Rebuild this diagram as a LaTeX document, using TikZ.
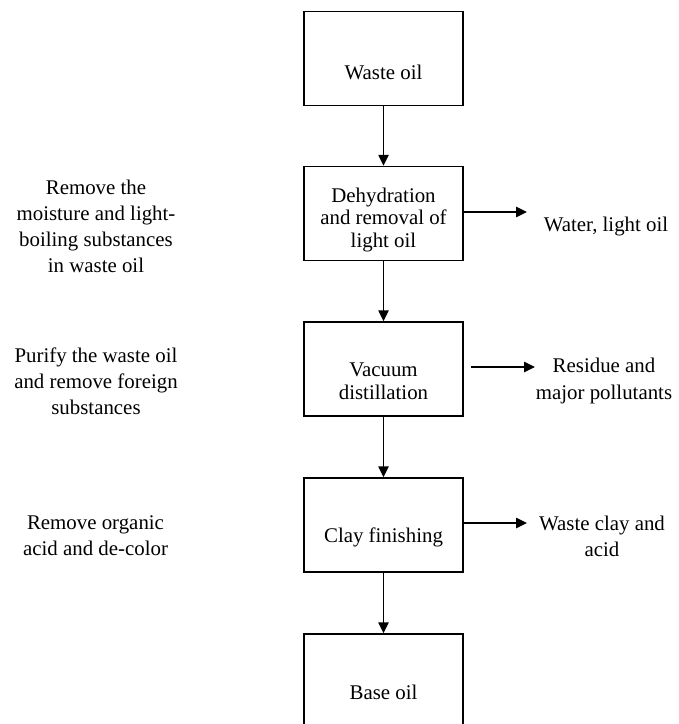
\documentclass[tikz,border=0pt]{standalone}
\usepackage{fontspec}
\setmainfont{Liberation Serif}
\usepackage{tikz}
\usetikzlibrary{arrows.meta}

\begin{document}
\begin{tikzpicture}[x = 0.575pt, y = -0.575pt,
    stepbox/.style = {draw, line width = 0.9pt, inner sep = 0pt,
        minimum width = 91.4pt, minimum height = 54pt},
    steptext/.style = {align = center, inner sep = 0pt,
        font = \fontsize{12pt}{13pt}\selectfont},
    sidetext/.style = {align = center, inner sep = 0pt,
        font = \fontsize{12pt}{15pt}\selectfont},
    flow/.style = {line width = 0.9pt, -{Triangle[length = 6.2pt, width = 5.8pt]}}]
    \clip (0, 0) rectangle (678, 724);
    % process boxes
    \node [stepbox] (waste) at (383.5, 58.5) {};
    \node [steptext] (wastet) at (383.5, 72) {Waste oil};
    \node [stepbox] (dehyd) at (383.5, 213.5) {};
    \node [steptext] (dehydt) at (383.5, 220) {Dehydration\\and removal of\\light oil};
    \node [stepbox] (vacuum) at (383.5, 369) {};
    \node [steptext] (vacuumt) at (383.5, 381) {Vacuum\\distillation};
    \node [stepbox] (clay) at (383.5, 525) {};
    \node [steptext] (clayt) at (383.5, 537) {Clay finishing};
    \node [stepbox] (base) at (383.5, 681) {};
    \node [steptext] (baset) at (383.5, 692) {Base oil};
    % main flow
    \draw [flow] (waste) -- (dehyd);
    \draw [flow] (dehyd) -- (vacuum);
    \draw [flow] (vacuum) -- (clay);
    \draw [flow] (clay) -- (base);
    % by-products
    \coordinate (water) at (527, 212);
    \draw [flow] (dehyd.east |- water) -- (water);
    \node [sidetext] (watert) at (606, 227) {Water, light oil};
    \coordinate (residues) at (471, 367);
    \coordinate (residue) at (535, 367);
    \draw [flow] (residues) -- (residue);
    \node [sidetext] (residuet) at (604, 381) {Residue and\\major pollutants};
    \coordinate (wclay) at (527, 523);
    \draw [flow] (clay.east |- wclay) -- (wclay);
    \node [sidetext] (wclayt) at (602, 536) {Waste clay and\\acid};
    % purposes
    \node [sidetext] (aim1) at (96, 226) {Remove the\\moisture and light-\\boiling substances\\in waste oil};
    \node [sidetext] (aim2) at (96, 381.5) {Purify the waste oil\\and remove foreign\\substances};
    \node [sidetext] (aim3) at (95.5, 536) {Remove organic\\acid and de-color};
\end{tikzpicture}
\end{document}
